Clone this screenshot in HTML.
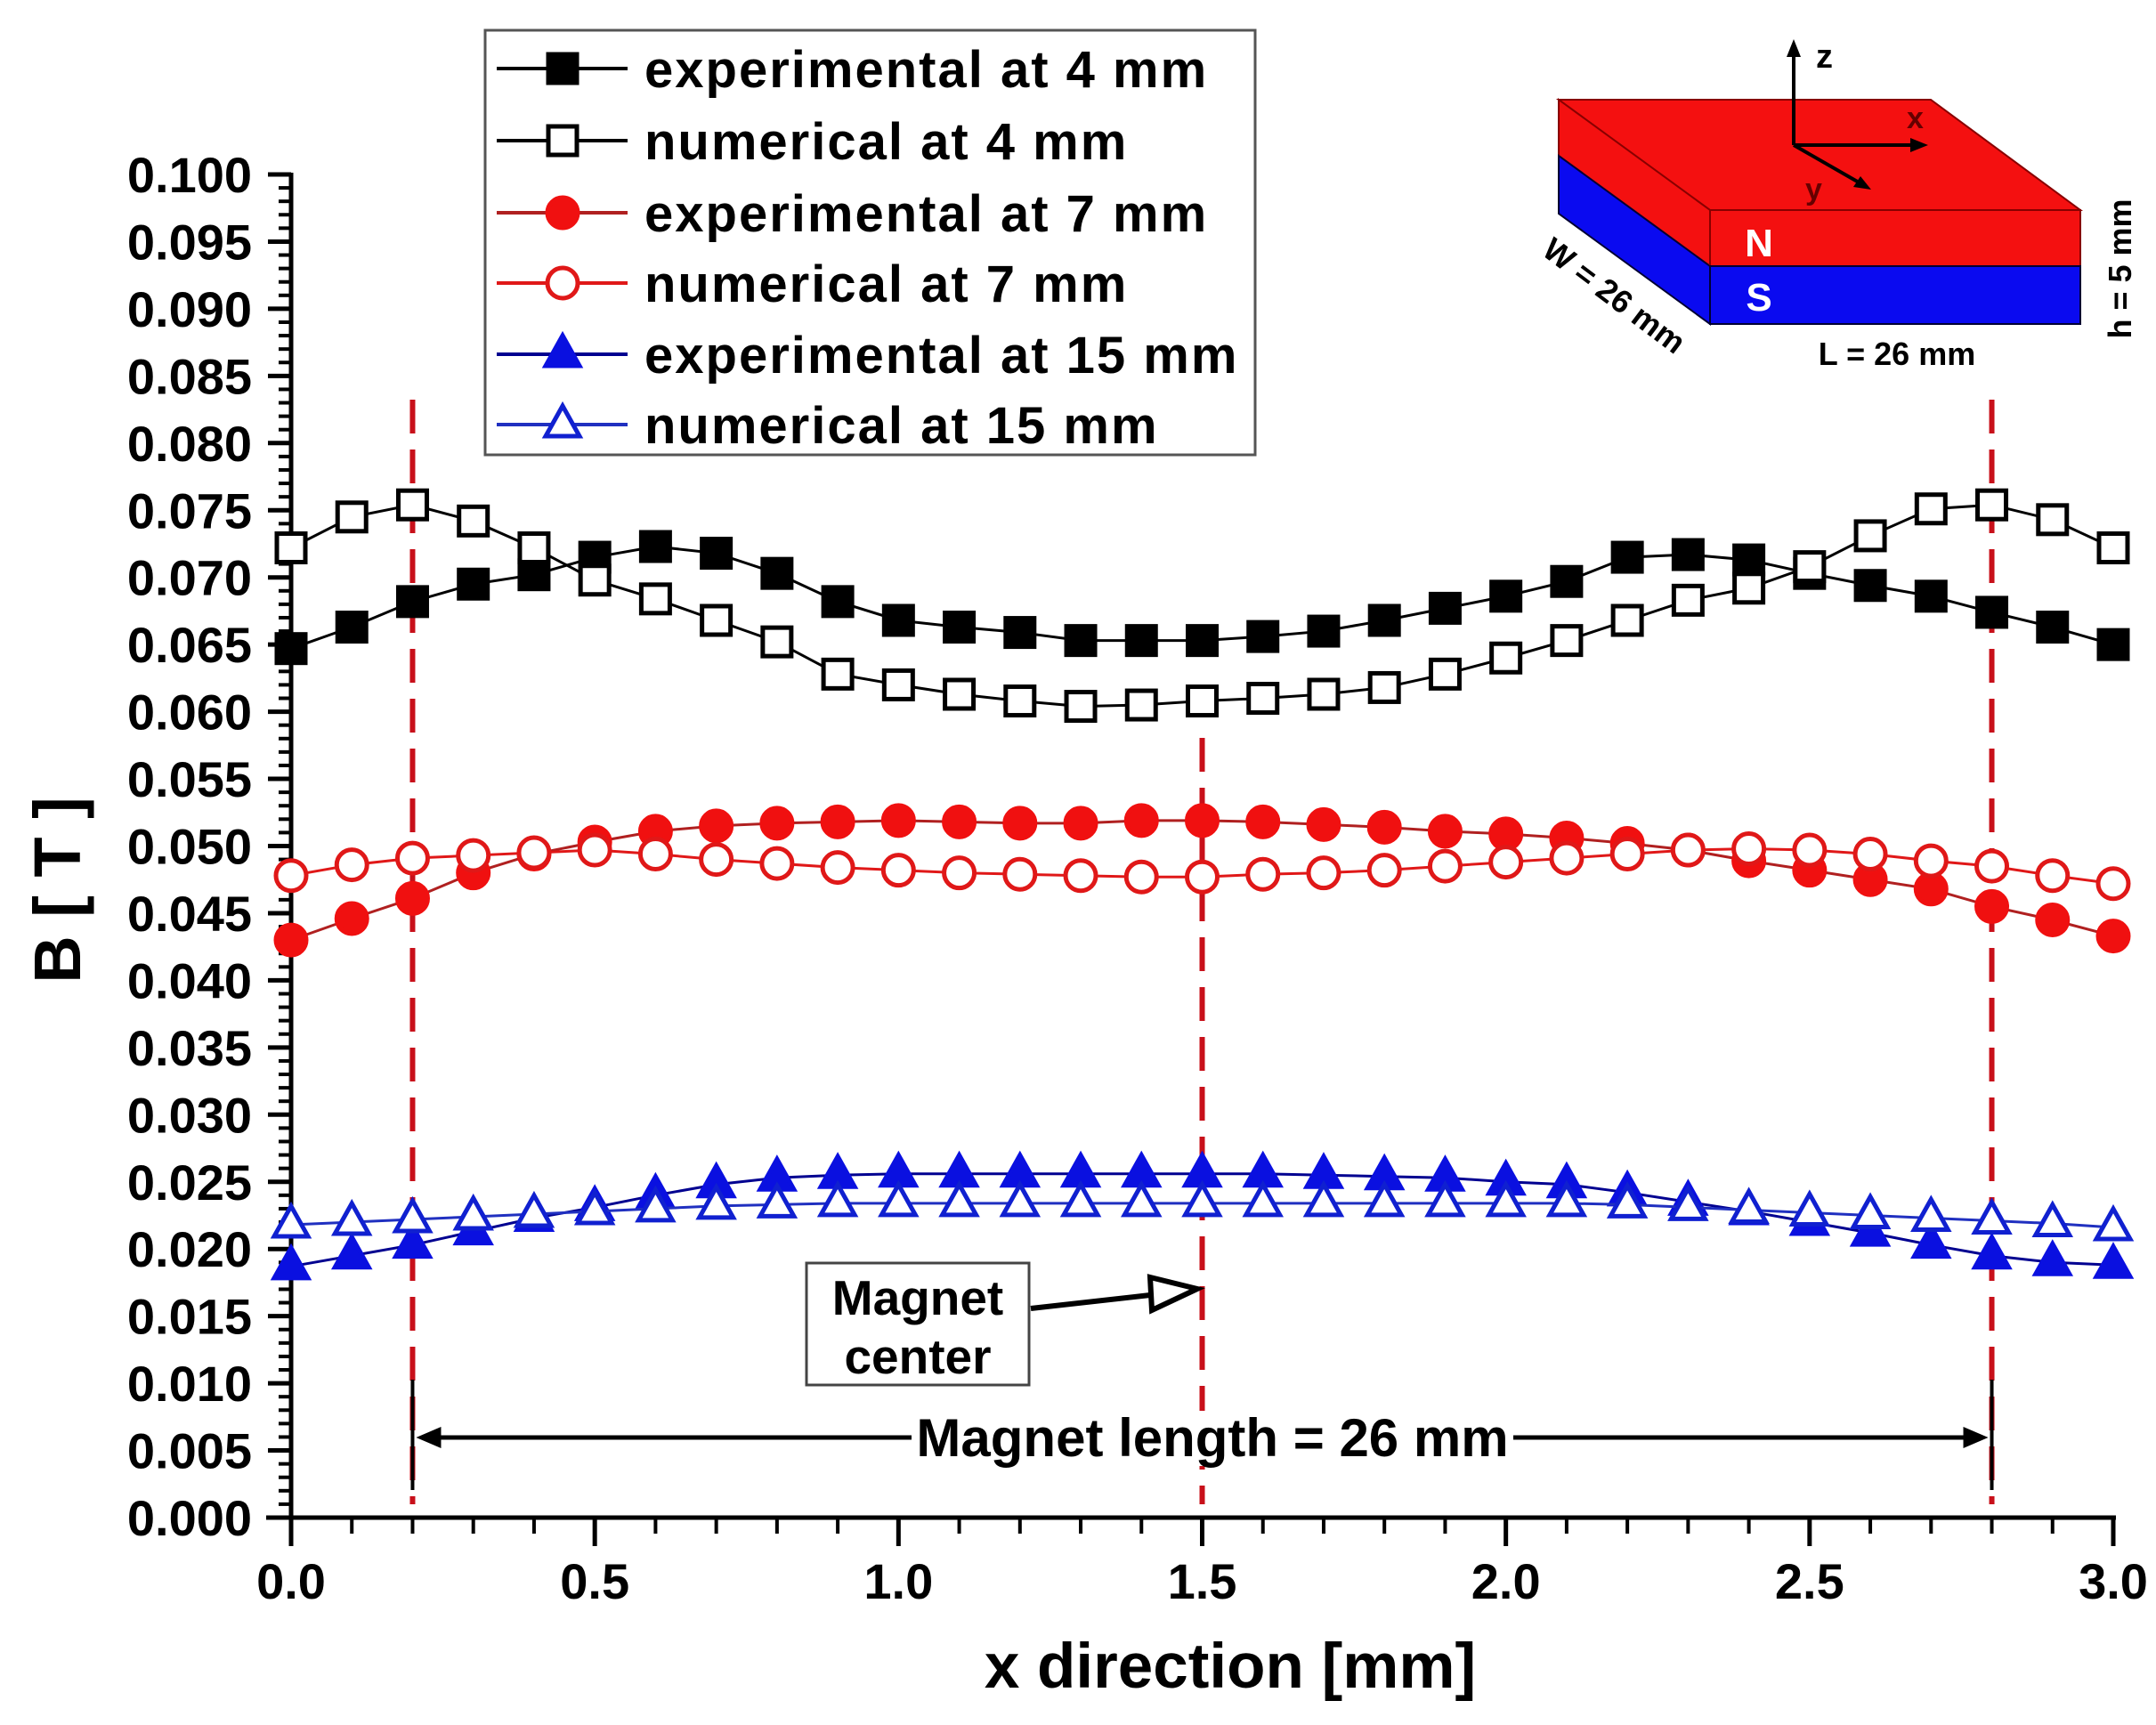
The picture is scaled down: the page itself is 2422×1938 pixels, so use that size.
<!DOCTYPE html>
<html><head><meta charset="utf-8">
<style>
html,body{margin:0;padding:0;background:#fff;}
svg{display:block;font-family:"Liberation Sans",Arial,sans-serif;font-weight:bold;}
</style></head>
<body>
<svg id="chart" width="2422" height="1938" viewBox="0 0 2422 1938" xmlns="http://www.w3.org/2000/svg">
<rect width="2422" height="1938" fill="#fff"/>
<g id="plot"></g>
</svg>
<script>
const xValues = [0,0.1,0.2,0.3,0.4,0.5,0.6,0.7,0.8,0.9,1.0,1.1,1.2,1.3,1.4,1.5,1.6,1.7,1.8,1.9,2.0,2.1,2.2,2.3,2.4,2.5,2.6,2.7,2.8,2.9,3.0];
const exp4 = [0.0647,0.0663,0.0682,0.0695,0.0702,0.0715,0.0723,0.0718,0.0703,0.0682,0.0668,0.0663,0.0659,0.0653,0.0653,0.0653,0.0656,0.0660,0.0668,0.0677,0.0686,0.0697,0.0715,0.0717,0.0713,0.0703,0.0694,0.0686,0.0674,0.0663,0.0650];
const num4 = [0.0722,0.0745,0.0754,0.0742,0.0722,0.0698,0.0684,0.0668,0.0652,0.0628,0.0620,0.0613,0.0608,0.0604,0.0605,0.0608,0.0610,0.0613,0.0618,0.0628,0.0640,0.0653,0.0668,0.0683,0.0692,0.0708,0.0731,0.0751,0.0754,0.0743,0.0722];
const exp7 = [0.0430,0.0446,0.0461,0.0480,0.0494,0.0503,0.0511,0.0515,0.0517,0.0518,0.0519,0.0518,0.0517,0.0517,0.0519,0.0519,0.0518,0.0516,0.0514,0.0511,0.0509,0.0506,0.0502,0.0497,0.0489,0.0482,0.0475,0.0468,0.0455,0.0445,0.0433];
const num7 = [0.0478,0.0486,0.0491,0.0493,0.0495,0.0497,0.0494,0.0490,0.0487,0.0484,0.0482,0.0480,0.0479,0.0478,0.0477,0.0477,0.0479,0.0480,0.0482,0.0485,0.0488,0.0491,0.0494,0.0497,0.0498,0.0497,0.0494,0.0489,0.0485,0.0478,0.0472];
const exp15 = [0.0187,0.0195,0.0203,0.0213,0.0223,0.0231,0.0240,0.0248,0.0253,0.0255,0.0256,0.0256,0.0256,0.0256,0.0256,0.0256,0.0256,0.0255,0.0254,0.0253,0.0250,0.0248,0.0242,0.0235,0.0228,0.0220,0.0212,0.0203,0.0195,0.0190,0.0188];
const num15 = [0.0218,0.0220,0.0222,0.0224,0.0226,0.0228,0.0230,0.0232,0.0233,0.0234,0.0234,0.0234,0.0234,0.0234,0.0234,0.0234,0.0234,0.0234,0.0234,0.0234,0.0234,0.0234,0.0233,0.0231,0.0229,0.0227,0.0225,0.0223,0.0221,0.0219,0.0216];
const seriesNames = ["experimental at 4 mm","numerical at 4 mm","experimental at 7 mm","numerical at 7 mm","experimental at 15 mm","numerical at 15 mm"];
const xTicks = [0,0.5,1.0,1.5,2.0,2.5,3.0];
const xTickLabels = ["0.0","0.5","1.0","1.5","2.0","2.5","3.0"];
const yTicks = [0,0.005,0.01,0.015,0.02,0.025,0.03,0.035,0.04,0.045,0.05,0.055,0.06,0.065,0.07,0.075,0.08,0.085,0.09,0.095,0.1];
const markerLines = [0.2,1.5,2.8];

const NS="http://www.w3.org/2000/svg";
const g=document.getElementById('plot');
const X0=327,X1=2374,Y0=1705,Y1=196;
function sx(v){return X0+(v-0)/(3-0)*(X1-X0);}
function sy(v){return Y0-(v-0)/(0.1-0)*(Y0-Y1);}
function el(tag,attrs,parent){const e=document.createElementNS(NS,tag);for(const k in attrs)e.setAttribute(k,attrs[k]);(parent||g).appendChild(e);return e;}

markerLines.forEach((m,i)=>{
  const top = (m===1.5)?829:449;
  const l=el('line',{x1:sx(m),x2:sx(m),y1:top,y2:1690,stroke:'#c8101a','stroke-width':6,'stroke-dasharray':'38 18'});
  
  
});

const ax=el('g',{stroke:'#000','stroke-width':5});


el('line',{x1:X0,x2:X0,y1:Y1-2,y2:Y0+2},ax);
el('line',{x1:X0-28,x2:X1+3,y1:Y0,y2:Y0},ax);
for(let i=0;i<=100;i++){const v=i/1000;const major=i%5===0;
  el('line',{x1:X0,x2:X0-(major?26:14),y1:sy(v),y2:sy(v),'stroke-width':major?5:4},ax);}
for(let i=0;i<=30;i++){const v=i/10;const major=i%5===0;
  el('line',{x1:sx(v),x2:sx(v),y1:Y0,y2:Y0+(major?32:18),'stroke-width':major?5:4},ax);}

yTicks.forEach((v)=>{const t=el('text',{x:283,y:sy(v)+20,'text-anchor':'end','font-size':56});t.textContent=v.toFixed(3);
  
  });
xTicks.forEach((v,i)=>{const t=el('text',{x:sx(v),y:1796,'text-anchor':'middle','font-size':56});t.textContent=xTickLabels[i];
  
  });
let t=el('text',{x:1382,y:1896,'text-anchor':'middle','font-size':71});t.textContent='x direction [mm]';


t=el('text',{x:0,y:0,'text-anchor':'middle','font-size':74,transform:'translate(90,1000) rotate(-90)'});t.textContent='B [ T ]';



function marker(parent,type,cx,cy,color,filled){
  const f=filled?color:'#fff';let m;
  if(type==='sq') m=el('rect',{x:cx-16,y:cy-16,width:32,height:32,fill:f,stroke:color,'stroke-width':5},parent);
  else if(type==='ci') m=el('circle',{cx:cx,cy:cy,r:17,fill:f,stroke:color,'stroke-width':5},parent);
  else m=el('polygon',{points:`${cx},${cy-21} ${cx+19},${cy+13} ${cx-19},${cy+13}`,fill:f,stroke:color,'stroke-width':5},parent);
  return m;
}
const series=[[exp4,'sq','#000',true,'#000'],[num4,'sq','#000',false,'#000'],[exp7,'ci','#f01010',true,'#b02020'],[num7,'ci','#e01818',false,'#e01818'],[exp15,'tr','#0a10e0',true,'#000090'],[num15,'tr','#1020d0',false,'#2030c0']];
series.forEach((s,si)=>{
  const sg=el('g',{});
  
  
  const pts=s[0].map((v,i)=>sx(xValues[i])+','+sy(v)).join(' ');
  el('polyline',{points:pts,fill:'none',stroke:s[4],'stroke-width':3},sg);
  s[0].forEach((v,i)=>{const m=marker(sg,s[1],sx(xValues[i]),sy(v),s[2],s[3]);
    
    });
});

const lg=el('g',{});


el('rect',{x:545,y:34,width:865,height:477,fill:'#fff',stroke:'#555','stroke-width':3},lg);
const ly=[77,158,239,318,398,477];
series.forEach((s,i)=>{
  const eg=el('g',{},lg);
  
  
  el('line',{x1:558,x2:705,y1:ly[i],y2:ly[i],stroke:s[4],'stroke-width':4},eg);
  marker(eg,s[1],632,ly[i],s[2],s[3]);
  const tt=el('text',{x:724,y:ly[i]+21,'font-size':58,'letter-spacing':2},eg);tt.textContent=seriesNames[i];
});

const ml=el('g',{});


el('line',{x1:sx(0.2),x2:sx(0.2),y1:1550,y2:1674,stroke:'#000','stroke-width':4},ml);
el('line',{x1:sx(2.8),x2:sx(2.8),y1:1550,y2:1674,stroke:'#000','stroke-width':4},ml);
el('line',{x1:sx(0.2)+10,x2:sx(2.8)-10,y1:1615,y2:1615,stroke:'#000','stroke-width':5},ml);
el('polygon',{points:`${sx(0.2)+4},1615 ${sx(0.2)+32},1603 ${sx(0.2)+32},1627`,fill:'#000'},ml);
el('polygon',{points:`${sx(2.8)-4},1615 ${sx(2.8)-32},1603 ${sx(2.8)-32},1627`,fill:'#000'},ml);
el('rect',{x:1024,y:1585,width:676,height:62,fill:'#fff'},ml);
t=el('text',{x:1362,y:1636,'text-anchor':'middle','font-size':60},ml);t.textContent='Magnet length = 26 mm';

const mc=el('g',{});


el('rect',{x:906,y:1419,width:250,height:137,fill:'#fff',stroke:'#444','stroke-width':3},mc);
t=el('text',{x:1031,y:1477,'text-anchor':'middle','font-size':55},mc);t.textContent='Magnet';
t=el('text',{x:1031,y:1543,'text-anchor':'middle','font-size':55},mc);t.textContent='center';
el('line',{x1:1158,x2:1292,y1:1470,y2:1455,stroke:'#000','stroke-width':6},mc);
el('polygon',{points:'1345,1448 1292,1435 1294,1472',fill:'#fff',stroke:'#000','stroke-width':6},mc);

const ins=el('g',{});


el('polygon',{points:'1751,112 2169,112 2337,236 1921,236',fill:'#f41010',stroke:'#800','stroke-width':2},ins);
el('polygon',{points:'1751,112 1921,236 1921,299 1751,175',fill:'#f41010',stroke:'#800','stroke-width':2},ins);
el('polygon',{points:'1751,175 1921,299 1921,364 1751,240',fill:'#0a0af0',stroke:'#003','stroke-width':2},ins);
el('rect',{x:1921,y:236,width:416,height:63,fill:'#f41010',stroke:'#800','stroke-width':2},ins);
el('rect',{x:1921,y:299,width:416,height:65,fill:'#0a0af0',stroke:'#003','stroke-width':2},ins);
el('line',{x1:2015,y1:163,x2:2015,y2:56,stroke:'#000','stroke-width':4},ins);
el('polygon',{points:'2015,44 2007,64 2023,64',fill:'#000'},ins);
el('line',{x1:2015,y1:163,x2:2150,y2:163,stroke:'#000','stroke-width':4},ins);
el('polygon',{points:'2166,163 2146,155 2146,171',fill:'#000'},ins);
el('line',{x1:2015,y1:163,x2:2090,y2:206,stroke:'#000','stroke-width':4},ins);
el('polygon',{points:'2102,213 2082,210 2090,198',fill:'#000'},ins);
t=el('text',{x:2040,y:76,'font-size':38},ins);t.textContent='z';
t=el('text',{x:2142,y:144,'font-size':34,fill:'#600'},ins);t.textContent='x';
t=el('text',{x:2028,y:224,'font-size':34,fill:'#600'},ins);t.textContent='y';
t=el('text',{x:1976,y:288,'text-anchor':'middle','font-size':44,fill:'#fff'},ins);t.textContent='N';
t=el('text',{x:1976,y:349,'text-anchor':'middle','font-size':44,fill:'#fff'},ins);t.textContent='S';
t=el('text',{x:0,y:0,'text-anchor':'middle','font-size':36,transform:'translate(1806,342) rotate(37)'},ins);t.textContent='W = 26 mm';
t=el('text',{x:2131,y:410,'text-anchor':'middle','font-size':36},ins);t.textContent='L = 26 mm';
t=el('text',{x:0,y:0,'text-anchor':'middle','font-size':36,transform:'translate(2394,302) rotate(-90)'},ins);t.textContent='h = 5 mm';
</script>
</body></html>
